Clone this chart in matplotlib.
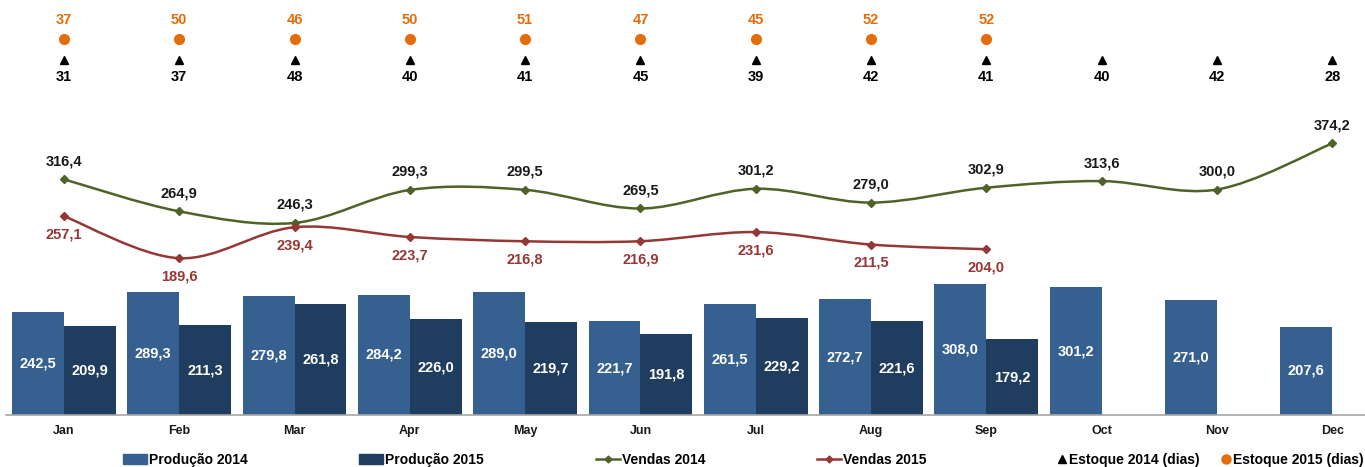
import numpy as np
import matplotlib
matplotlib.use("Agg")
import matplotlib.pyplot as plt
from matplotlib.path import Path
from matplotlib.patches import PathPatch, Patch
from matplotlib.lines import Line2D
import matplotlib.transforms as mtransforms

plt.rcParams['font.family'] = ['Liberation Sans', 'DejaVu Sans']
plt.rcParams['font.weight'] = 'bold'

months = ['Jan', 'Feb', 'Mar', 'Apr', 'May', 'Jun', 'Jul', 'Aug', 'Sep', 'Oct', 'Nov', 'Dec']
prod_2014 = [242.5, 289.3, 279.8, 284.2, 289.0, 221.7, 261.5, 272.7, 308.0, 301.2, 271.0, 207.6]
prod_2015 = [209.9, 211.3, 261.8, 226.0, 219.7, 191.8, 229.2, 221.6, 179.2]
vendas_2014 = [316.4, 264.9, 246.3, 299.3, 299.5, 269.5, 301.2, 279.0, 302.9, 313.6, 300.0, 374.2]
vendas_2015 = [257.1, 189.6, 239.4, 223.7, 216.8, 216.9, 231.6, 211.5, 204.0]
estoque_2014 = [31, 37, 48, 40, 41, 45, 39, 42, 41, 40, 42, 28]
estoque_2015 = [37, 50, 46, 50, 51, 47, 45, 52, 52]

c_p14 = '#35608F'
c_p15 = '#1F3D5E'
c_v14 = '#4F6228'
c_v15 = '#953735'
c_orange = '#E46C0A'

def fmt(v):
    return f"{v:.1f}".replace('.', ',')

def smooth_path(xs, ys):
    # excel-like smoothed line (catmull-rom as bezier segments)
    pts = np.column_stack([xs, ys]).astype(float)
    n = len(pts)
    verts = [pts[0]]
    codes = [Path.MOVETO]
    for i in range(n - 1):
        p0 = pts[max(i - 1, 0)]; p1 = pts[i]; p2 = pts[i + 1]; p3 = pts[min(i + 2, n - 1)]
        verts += [p1 + (p2 - p0) / 6, p2 - (p3 - p1) / 6, p2]
        codes += [Path.CURVE4] * 3
    return Path(verts, codes)

W, H = 1365, 467
fig = plt.figure(figsize=(W / 100, H / 100), dpi=100)
ax = fig.add_axes([6.3 / W, 52 / H, 1383.6 / W, 415 / H])
ax.patch.set_alpha(0)

x = np.arange(len(months))
x15 = np.arange(len(prod_2015))
bw = 0.45
b1 = ax.bar(x - bw / 2, prod_2014, bw, color=c_p14, zorder=2)
b2 = ax.bar(x15 + bw / 2, prod_2015, bw, color=c_p15, zorder=2)
for bars, vals in [(b1, prod_2014), (b2, prod_2015)]:
    ax.bar_label(bars, labels=[fmt(v) for v in vals], label_type='center',
                 color='white', fontsize=10.5, fontweight='bold')

ax.set_xlim(-0.5, 11.5)
ax.set_ylim(0, 978.8)
ax.set_yticks([])
ax.set_xticks(x)
ax.set_xticklabels(months, fontsize=9, fontweight='bold', color='#1a1a1a')
ax.tick_params(axis='x', length=0, pad=7)
for s in ['top', 'left', 'right']:
    ax.spines[s].set_visible(False)
ax.spines['bottom'].set_color('#A6A6A6')
ax.spines['bottom'].set_linewidth(1.2)

# lines on secondary scale
ax2 = ax.twinx()
ax2.set_ylim(-62.5, 604.7)
ax2.axis('off')
for vals, col, off, tcol in [(vendas_2014, c_v14, 13, '#1a1a1a'), (vendas_2015, c_v15, -13, c_v15)]:
    xs = np.arange(len(vals))
    ax2.add_patch(PathPatch(smooth_path(xs, vals), fill=False, edgecolor=col, lw=1.8, zorder=3))
    ax2.plot(xs, vals, 'D', color=col, ms=4.5, zorder=4)
    for xi, v in zip(xs, vals):
        ax2.annotate(fmt(v), (xi, v), xytext=(0, off), textcoords='offset points',
                     ha='center', va='center', color=tcol, fontsize=10.5, fontweight='bold')

# estoque rows (constant height markers with value labels)
trans = mtransforms.blended_transform_factory(ax.transData, ax.transAxes)
row15, row14 = 0.9053, 0.8554
ax.plot(np.arange(len(estoque_2015)), [row15] * len(estoque_2015), 'o', color=c_orange,
        ms=7, transform=trans, clip_on=False)
ax.plot(x, [row14] * len(estoque_2014), '^', color='black', ms=6, transform=trans, clip_on=False)
for xi, v in enumerate(estoque_2015):
    ax.annotate(str(v), (xi, row15), xycoords=trans, xytext=(0, 14), textcoords='offset points',
                ha='center', va='center', color=c_orange, fontsize=10.5, fontweight='bold')
for xi, v in enumerate(estoque_2014):
    ax.annotate(str(v), (xi, row14), xycoords=trans, xytext=(0, -12.3), textcoords='offset points',
                ha='center', va='center', color='black', fontsize=10.5, fontweight='bold')

# legend entries placed one by one
entries = [
    (Patch(color=c_p14), 'Produção 2014', 123, 1.7),
    (Patch(color=c_p15), 'Produção 2015', 359, 1.7),
    (Line2D([], [], color=c_v14, lw=1.8, marker='D', ms=3.5), 'Vendas 2014', 596, 1.7),
    (Line2D([], [], color=c_v15, lw=1.8, marker='D', ms=3.5), 'Vendas 2015', 817, 1.7),
    (Line2D([], [], ls='', marker='^', color='black', ms=6), 'Estoque 2014 (dias)', 1056, 0.8),
    (Line2D([], [], ls='', marker='o', color=c_orange, ms=6.5), 'Estoque 2015 (dias)', 1220, 0.8),
]
for h, lab, px, hl in entries:
    fig.legend(handles=[h], labels=[lab], loc='center left', bbox_to_anchor=(px / W, 1 - 460 / H),
               frameon=False, borderpad=0, borderaxespad=0, handlelength=hl, handleheight=0.7,
               handletextpad=0.15, prop={'size': 10, 'weight': 'bold'})

fig.savefig('out.png', dpi=100)
